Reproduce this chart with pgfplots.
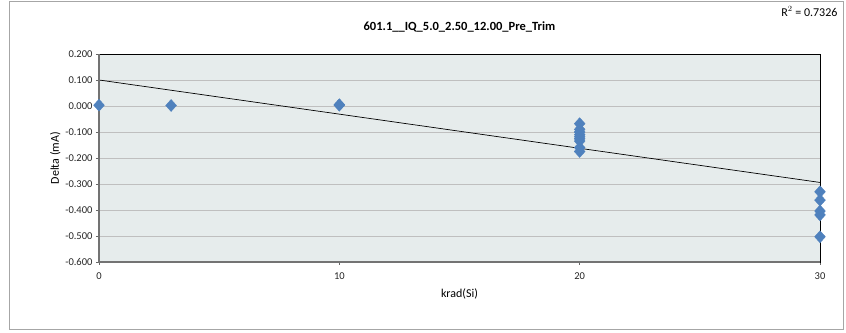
\documentclass[border=0pt]{standalone}
\usepackage{pgfplots}
\pgfplotsset{compat=1.18}
\usepackage{fontspec}
\setmainfont{Carlito}
\definecolor{mblue}{HTML}{4F81BD}
\definecolor{pbg}{HTML}{E6ECEC}
\definecolor{grid}{HTML}{8C8C8C}
\begin{document}
\begin{tikzpicture}[x=1pt,y=1pt]
\begin{axis}[name=ax,
  scale only axis, width=721pt, height=208pt,
  xmin=0, xmax=30, ymin=-0.6, ymax=0.2,
  xtick={0,10,20,30}, ytick={-0.6,-0.5,...,0.21},
  xtick pos=bottom, ytick pos=left,
  axis background/.style={fill=pbg},
  xmajorgrids=false, ymajorgrids=true, grid style={grid, line width=0.8pt},
  yticklabel={\pgfmathprintnumber[fixed,fixed zerofill,precision=3]{\tick}},
  /pgf/number format/assume math mode=true,
  tick label style={font=\fontsize{10.5}{12}\selectfont, text=black!85},
  tick align=outside, tick style={black!60, line width=0.6pt}, major tick length=3pt,
  x tick label style={yshift=-4pt},
  axis line style={black, line width=0.6pt},
  xlabel={krad(Si)}, ylabel={Delta (mA)},
  label style={font=\fontsize{12}{14}\selectfont},
  xlabel style={yshift=-2pt},
  ylabel style={yshift=-2pt},
  clip=false,
]
\addplot[only marks, mark=diamond*, mark size=6pt, color=mblue, mark options={fill=mblue, draw=mblue, xscale=1.2}]
coordinates {
(0,0.003) (3,0.002) (10,0.005) (10,0.003)
(20,-0.068) (20,-0.090) (20,-0.100) (20,-0.110) (20,-0.118) (20,-0.126) (20,-0.135) (20,-0.160) (20,-0.175)
(30,-0.330) (30,-0.362) (30,-0.404) (30,-0.419) (30,-0.503)
};
\addplot[black, line width=0.7pt] coordinates {(0,0.100) (30,-0.294)};
\draw[black!55, line width=1.6pt] (rel axis cs:0,1) -- (rel axis cs:0,0) -- (rel axis cs:1,0);
\end{axis}
\draw[black!35, line width=1pt] ([shift={(-89pt,-68pt)}]ax.south west) rectangle ([shift={(23pt,52pt)}]ax.north east);
\path ([shift={(-99pt,-71pt)}]ax.south west) rectangle ([shift={(26pt,54pt)}]ax.north east);
\node[font=\fontsize{12.5}{14}\selectfont\bfseries] at ([yshift=27pt]ax.north) {601.1\_\_IQ\_5.0\_2.50\_12.00\_Pre\_Trim};
\node[font=\fontsize{12}{14}\selectfont, anchor=north east] at ([shift={(21pt,51pt)}]ax.north east) {R$^{2}$ = 0.7326};
\end{tikzpicture}
\end{document}
